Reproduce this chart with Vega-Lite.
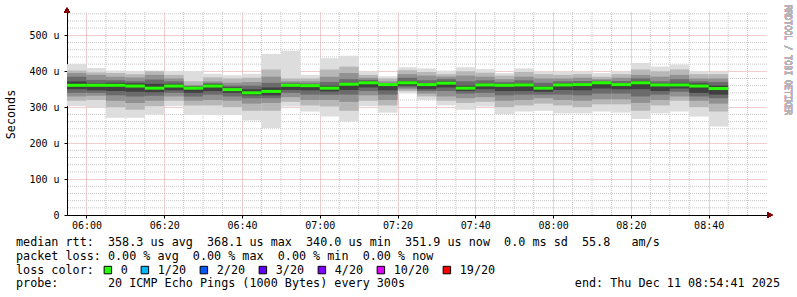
{
  "$schema": "https://vega.github.io/schema/vega-lite/v6.json",
  "width": 700,
  "height": 203,
  "autosize": {"type": "none"},
  "padding": {"left": 67, "top": 12, "right": 30, "bottom": 82},
  "background": "white",
  "config": {
    "font": "DejaVu Sans Mono",
    "view": {"stroke": null},
    "axis": {"labelFont": "DejaVu Sans Mono", "titleFont": "DejaVu Sans Mono"}
  },
  "title": {
    "text": [
      "median rtt:\u00a0\u00a0358.3 us avg\u00a0\u00a0368.1 us max\u00a0\u00a0340.0 us min\u00a0\u00a0351.9 us now\u00a0\u00a00.0 ms sd\u00a0\u00a055.8\u00a0\u00a0\u00a0am/s",
      "packet loss: 0.00 % avg\u00a0\u00a00.00 % max\u00a0\u00a00.00 % min\u00a0\u00a00.00 % now",
      "\u200b",
      "probe:\u00a0\u00a0\u00a0\u00a0\u00a0\u00a0\u00a020 ICMP Echo Pings (1000 Bytes) every 300s\u00a0\u00a0\u00a0\u00a0\u00a0\u00a0\u00a0\u00a0\u00a0\u00a0\u00a0\u00a0\u00a0\u00a0\u00a0\u00a0\u00a0\u00a0\u00a0\u00a0\u00a0\u00a0\u00a0\u00a0end: Thu Dec 11 08:54:41 2025"
    ],
    "orient": "bottom",
    "anchor": "start",
    "frame": "group",
    "dx": -51,
    "offset": -40,
    "font": "DejaVu Sans Mono",
    "fontSize": 11.75,
    "fontWeight": "normal",
    "color": "black",
    "lineHeight": 13.7,
    "baseline": "top"
  },
  "data": {
    "values": [
      {"t": "2025-12-11T05:55:00", "t2": "2025-12-11T06:00:00", "min": 303, "max": 420, "lo2": 318, "hi2": 402, "lo3": 330, "hi3": 395, "lo4": 340, "hi4": 385, "lo5": 350, "hi5": 372, "med": 361, "loss": "0"},
      {"t": "2025-12-11T06:00:00", "t2": "2025-12-11T06:05:00", "min": 299, "max": 409, "lo2": 320, "hi2": 397, "lo3": 332, "hi3": 390, "lo4": 340, "hi4": 376, "lo5": 347, "hi5": 366, "med": 361, "loss": "0"},
      {"t": "2025-12-11T06:05:00", "t2": "2025-12-11T06:10:00", "min": 271, "max": 402, "lo2": 300, "hi2": 395, "lo3": 318, "hi3": 385, "lo4": 333, "hi4": 375, "lo5": 345, "hi5": 368, "med": 361, "loss": "0"},
      {"t": "2025-12-11T06:10:00", "t2": "2025-12-11T06:15:00", "min": 271, "max": 400, "lo2": 293, "hi2": 392, "lo3": 312, "hi3": 383, "lo4": 330, "hi4": 372, "lo5": 343, "hi5": 367, "med": 359, "loss": "0"},
      {"t": "2025-12-11T06:15:00", "t2": "2025-12-11T06:20:00", "min": 280, "max": 402, "lo2": 303, "hi2": 400, "lo3": 318, "hi3": 390, "lo4": 332, "hi4": 377, "lo5": 342, "hi5": 365, "med": 353, "loss": "0"},
      {"t": "2025-12-11T06:20:00", "t2": "2025-12-11T06:25:00", "min": 303, "max": 401, "lo2": 318, "hi2": 390, "lo3": 330, "hi3": 380, "lo4": 340, "hi4": 372, "lo5": 347, "hi5": 365, "med": 359, "loss": "0"},
      {"t": "2025-12-11T06:25:00", "t2": "2025-12-11T06:30:00", "min": 278, "max": 401, "lo2": 305, "hi2": 372, "lo3": 318, "hi3": 362, "lo4": 330, "hi4": 358, "lo5": 340, "hi5": 357, "med": 353, "loss": "0"},
      {"t": "2025-12-11T06:30:00", "t2": "2025-12-11T06:35:00", "min": 278, "max": 393, "lo2": 305, "hi2": 383, "lo3": 320, "hi3": 372, "lo4": 335, "hi4": 367, "lo5": 345, "hi5": 364, "med": 359, "loss": "0"},
      {"t": "2025-12-11T06:35:00", "t2": "2025-12-11T06:40:00", "min": 278, "max": 389, "lo2": 300, "hi2": 380, "lo3": 318, "hi3": 368, "lo4": 330, "hi4": 360, "lo5": 340, "hi5": 355, "med": 349, "loss": "0"},
      {"t": "2025-12-11T06:40:00", "t2": "2025-12-11T06:45:00", "min": 263, "max": 393, "lo2": 290, "hi2": 382, "lo3": 310, "hi3": 370, "lo4": 325, "hi4": 360, "lo5": 333, "hi5": 350, "med": 340, "loss": "0"},
      {"t": "2025-12-11T06:45:00", "t2": "2025-12-11T06:50:00", "min": 242, "max": 448, "lo2": 290, "hi2": 405, "lo3": 312, "hi3": 385, "lo4": 325, "hi4": 368, "lo5": 333, "hi5": 355, "med": 344, "loss": "0"},
      {"t": "2025-12-11T06:50:00", "t2": "2025-12-11T06:55:00", "min": 302, "max": 457, "lo2": 315, "hi2": 380, "lo3": 328, "hi3": 372, "lo4": 340, "hi4": 368, "lo5": 348, "hi5": 364, "med": 361, "loss": "0"},
      {"t": "2025-12-11T06:55:00", "t2": "2025-12-11T07:00:00", "min": 288, "max": 390, "lo2": 305, "hi2": 380, "lo3": 320, "hi3": 372, "lo4": 335, "hi4": 366, "lo5": 347, "hi5": 363, "med": 360, "loss": "0"},
      {"t": "2025-12-11T07:00:00", "t2": "2025-12-11T07:05:00", "min": 274, "max": 436, "lo2": 302, "hi2": 405, "lo3": 320, "hi3": 385, "lo4": 335, "hi4": 370, "lo5": 344, "hi5": 360, "med": 353, "loss": "0"},
      {"t": "2025-12-11T07:05:00", "t2": "2025-12-11T07:10:00", "min": 260, "max": 443, "lo2": 290, "hi2": 413, "lo3": 315, "hi3": 395, "lo4": 335, "hi4": 378, "lo5": 348, "hi5": 368, "med": 364, "loss": "0"},
      {"t": "2025-12-11T07:10:00", "t2": "2025-12-11T07:15:00", "min": 303, "max": 399, "lo2": 318, "hi2": 390, "lo3": 333, "hi3": 382, "lo4": 345, "hi4": 376, "lo5": 355, "hi5": 372, "med": 368, "loss": "0"},
      {"t": "2025-12-11T07:15:00", "t2": "2025-12-11T07:20:00", "min": 285, "max": 386, "lo2": 305, "hi2": 380, "lo3": 320, "hi3": 372, "lo4": 335, "hi4": 366, "lo5": 347, "hi5": 362, "med": 363, "loss": "0"},
      {"t": "2025-12-11T07:20:00", "t2": "2025-12-11T07:25:00", "min": 339, "max": 411, "lo2": 345, "hi2": 403, "lo3": 350, "hi3": 392, "lo4": 355, "hi4": 382, "lo5": 360, "hi5": 373, "med": 368, "loss": "0"},
      {"t": "2025-12-11T07:25:00", "t2": "2025-12-11T07:30:00", "min": 320, "max": 408, "lo2": 330, "hi2": 398, "lo3": 338, "hi3": 388, "lo4": 345, "hi4": 375, "lo5": 350, "hi5": 366, "med": 363, "loss": "0"},
      {"t": "2025-12-11T07:30:00", "t2": "2025-12-11T07:35:00", "min": 305, "max": 402, "lo2": 318, "hi2": 392, "lo3": 330, "hi3": 385, "lo4": 345, "hi4": 378, "lo5": 355, "hi5": 372, "med": 367, "loss": "0"},
      {"t": "2025-12-11T07:35:00", "t2": "2025-12-11T07:40:00", "min": 293, "max": 411, "lo2": 312, "hi2": 400, "lo3": 325, "hi3": 388, "lo4": 338, "hi4": 372, "lo5": 345, "hi5": 360, "med": 353, "loss": "0"},
      {"t": "2025-12-11T07:40:00", "t2": "2025-12-11T07:45:00", "min": 302, "max": 406, "lo2": 315, "hi2": 396, "lo3": 328, "hi3": 385, "lo4": 340, "hi4": 375, "lo5": 350, "hi5": 366, "med": 362, "loss": "0"},
      {"t": "2025-12-11T07:45:00", "t2": "2025-12-11T07:50:00", "min": 281, "max": 395, "lo2": 300, "hi2": 388, "lo3": 318, "hi3": 378, "lo4": 333, "hi4": 370, "lo5": 345, "hi5": 365, "med": 361, "loss": "0"},
      {"t": "2025-12-11T07:50:00", "t2": "2025-12-11T07:55:00", "min": 288, "max": 408, "lo2": 305, "hi2": 398, "lo3": 320, "hi3": 385, "lo4": 335, "hi4": 375, "lo5": 345, "hi5": 366, "med": 362, "loss": "0"},
      {"t": "2025-12-11T07:55:00", "t2": "2025-12-11T08:00:00", "min": 290, "max": 399, "lo2": 310, "hi2": 392, "lo3": 325, "hi3": 380, "lo4": 335, "hi4": 368, "lo5": 343, "hi5": 358, "med": 353, "loss": "0"},
      {"t": "2025-12-11T08:00:00", "t2": "2025-12-11T08:05:00", "min": 283, "max": 399, "lo2": 305, "hi2": 390, "lo3": 320, "hi3": 380, "lo4": 335, "hi4": 372, "lo5": 348, "hi5": 366, "med": 362, "loss": "0"},
      {"t": "2025-12-11T08:05:00", "t2": "2025-12-11T08:10:00", "min": 283, "max": 399, "lo2": 300, "hi2": 392, "lo3": 318, "hi3": 382, "lo4": 333, "hi4": 373, "lo5": 347, "hi5": 367, "med": 363, "loss": "0"},
      {"t": "2025-12-11T08:10:00", "t2": "2025-12-11T08:15:00", "min": 288, "max": 395, "lo2": 308, "hi2": 385, "lo3": 322, "hi3": 378, "lo4": 338, "hi4": 374, "lo5": 352, "hi5": 370, "med": 368, "loss": "0"},
      {"t": "2025-12-11T08:15:00", "t2": "2025-12-11T08:20:00", "min": 285, "max": 399, "lo2": 308, "hi2": 392, "lo3": 322, "hi3": 382, "lo4": 338, "hi4": 373, "lo5": 350, "hi5": 367, "med": 363, "loss": "0"},
      {"t": "2025-12-11T08:20:00", "t2": "2025-12-11T08:25:00", "min": 267, "max": 423, "lo2": 290, "hi2": 405, "lo3": 312, "hi3": 390, "lo4": 330, "hi4": 380, "lo5": 350, "hi5": 373, "med": 368, "loss": "0"},
      {"t": "2025-12-11T08:25:00", "t2": "2025-12-11T08:30:00", "min": 283, "max": 413, "lo2": 305, "hi2": 400, "lo3": 320, "hi3": 385, "lo4": 335, "hi4": 372, "lo5": 345, "hi5": 366, "med": 362, "loss": "0"},
      {"t": "2025-12-11T08:30:00", "t2": "2025-12-11T08:35:00", "min": 288, "max": 419, "lo2": 318, "hi2": 405, "lo3": 330, "hi3": 390, "lo4": 343, "hi4": 378, "lo5": 352, "hi5": 368, "med": 362, "loss": "0"},
      {"t": "2025-12-11T08:35:00", "t2": "2025-12-11T08:40:00", "min": 274, "max": 401, "lo2": 300, "hi2": 392, "lo3": 318, "hi3": 380, "lo4": 330, "hi4": 372, "lo5": 340, "hi5": 366, "med": 359, "loss": "0"},
      {"t": "2025-12-11T08:40:00", "t2": "2025-12-11T08:45:00", "min": 246, "max": 399, "lo2": 288, "hi2": 392, "lo3": 310, "hi3": 380, "lo4": 325, "hi4": 370, "lo5": 335, "hi5": 360, "med": 352, "loss": "0"}
    ]
  },
  "layer": [
    {
      "data": {"values": [
        {"gt": "2025-12-11T06:05:00"}, {"gt": "2025-12-11T06:10:00"}, {"gt": "2025-12-11T06:15:00"},
        {"gt": "2025-12-11T06:25:00"}, {"gt": "2025-12-11T06:30:00"}, {"gt": "2025-12-11T06:35:00"},
        {"gt": "2025-12-11T06:45:00"}, {"gt": "2025-12-11T06:50:00"}, {"gt": "2025-12-11T06:55:00"},
        {"gt": "2025-12-11T07:05:00"}, {"gt": "2025-12-11T07:10:00"}, {"gt": "2025-12-11T07:15:00"},
        {"gt": "2025-12-11T07:25:00"}, {"gt": "2025-12-11T07:30:00"}, {"gt": "2025-12-11T07:35:00"},
        {"gt": "2025-12-11T07:45:00"}, {"gt": "2025-12-11T07:50:00"}, {"gt": "2025-12-11T07:55:00"},
        {"gt": "2025-12-11T08:05:00"}, {"gt": "2025-12-11T08:10:00"}, {"gt": "2025-12-11T08:15:00"},
        {"gt": "2025-12-11T08:25:00"}, {"gt": "2025-12-11T08:30:00"}, {"gt": "2025-12-11T08:35:00"},
        {"gt": "2025-12-11T08:45:00"}, {"gt": "2025-12-11T08:50:00"}
      ]},
      "mark": {"type": "rule", "color": "#c8c8c8", "strokeWidth": 1, "strokeDash": [1, 1]},
      "encoding": {
        "x": {"field": "gt", "type": "temporal",
          "scale": {"domain": [{"year": 2025, "month": 12, "date": 11, "hours": 5, "minutes": 55}, {"year": 2025, "month": 12, "date": 11, "hours": 8, "minutes": 55}], "nice": false},
          "axis": {"orient": "bottom", "title": null, "format": "%H:%M",
            "values": [{"year": 2025, "month": 12, "date": 11, "hours": 6, "minutes": 0}, {"year": 2025, "month": 12, "date": 11, "hours": 6, "minutes": 20}, {"year": 2025, "month": 12, "date": 11, "hours": 6, "minutes": 40}, {"year": 2025, "month": 12, "date": 11, "hours": 7, "minutes": 0}, {"year": 2025, "month": 12, "date": 11, "hours": 7, "minutes": 20}, {"year": 2025, "month": 12, "date": 11, "hours": 7, "minutes": 40}, {"year": 2025, "month": 12, "date": 11, "hours": 8, "minutes": 0}, {"year": 2025, "month": 12, "date": 11, "hours": 8, "minutes": 20}, {"year": 2025, "month": 12, "date": 11, "hours": 8, "minutes": 40}],
            "grid": true, "gridColor": "#e49a9a", "gridDash": [1, 1], "domainColor": "black", "domainWidth": 1, "tickColor": "black", "tickSize": 3, "labelPadding": 2, "labelFontSize": 10, "labelColor": "black", "labelFlush": false}}
      }
    },
    {
      "data": {"values": [
        {"gv": 20}, {"gv": 40}, {"gv": 60}, {"gv": 80}, {"gv": 120}, {"gv": 140}, {"gv": 160}, {"gv": 180},
        {"gv": 220}, {"gv": 240}, {"gv": 260}, {"gv": 280}, {"gv": 320}, {"gv": 340}, {"gv": 360}, {"gv": 380},
        {"gv": 420}, {"gv": 440}, {"gv": 460}, {"gv": 480}, {"gv": 520}, {"gv": 540}, {"gv": 560}
      ]},
      "mark": {"type": "rule", "color": "#c8c8c8", "strokeWidth": 1, "strokeDash": [1, 1]},
      "encoding": {
        "y": {"field": "gv", "type": "quantitative",
          "scale": {"domain": [0, 565], "nice": false},
          "axis": {"orient": "left", "values": [0, 100, 200, 300, 400, 500], "labelExpr": "datum.value === 0 ? '0' : datum.label + ' u'", "grid": true, "gridColor": "#e49a9a", "gridDash": [1, 1], "domainColor": "black", "tickColor": "black", "tickSize": 3, "labelPadding": 5, "labelFontSize": 10, "labelColor": "black",
            "title": "Seconds", "titleX": -57, "titleY": 102, "titleFontSize": 11.75, "titleFontWeight": "normal", "titleColor": "black", "titleAlign": "center", "titleBaseline": "middle", "titleAngle": -90}}
      }
    },
    {
      "mark": {"type": "rect", "color": "#dddddd"},
      "encoding": {
        "x": {"field": "t", "type": "temporal"},
        "x2": {"field": "t2"},
        "y": {"field": "min", "type": "quantitative"},
        "y2": {"field": "max"}
      }
    },
    {
      "mark": {"type": "rect", "color": "#b7b7b7"},
      "encoding": {
        "x": {"field": "t", "type": "temporal"},
        "x2": {"field": "t2"},
        "y": {"field": "lo2", "type": "quantitative"},
        "y2": {"field": "hi2"}
      }
    },
    {
      "mark": {"type": "rect", "color": "#919191"},
      "encoding": {
        "x": {"field": "t", "type": "temporal"},
        "x2": {"field": "t2"},
        "y": {"field": "lo3", "type": "quantitative"},
        "y2": {"field": "hi3"}
      }
    },
    {
      "mark": {"type": "rect", "color": "#6b6b6b"},
      "encoding": {
        "x": {"field": "t", "type": "temporal"},
        "x2": {"field": "t2"},
        "y": {"field": "lo4", "type": "quantitative"},
        "y2": {"field": "hi4"}
      }
    },
    {
      "mark": {"type": "rect", "color": "#404040"},
      "encoding": {
        "x": {"field": "t", "type": "temporal"},
        "x2": {"field": "t2"},
        "y": {"field": "lo5", "type": "quantitative"},
        "y2": {"field": "hi5"}
      }
    },
    {
      "mark": {"type": "tick", "orient": "horizontal", "size": 19.5, "thickness": 3, "xOffset": 9.75, "opacity": 1},
      "encoding": {
        "x": {"field": "t", "type": "temporal"},
        "y": {"field": "med", "type": "quantitative"},
        "color": {"field": "loss", "type": "nominal",
          "scale": {"domain": ["0", "1/20", "2/20", "3/20", "4/20", "10/20", "19/20"], "range": ["#26ff00", "#00b8ff", "#0059ff", "#5e00ff", "#7e00ff", "#dd00ff", "#ff0000"]},
          "legend": {"orient": "none", "legendX": -51, "legendY": 252, "direction": "horizontal", "columns": 7,
            "title": "loss color:", "titleOrient": "left", "titleFont": "DejaVu Sans Mono", "titleFontSize": 11.75, "titleFontWeight": "normal", "titleColor": "black", "titlePadding": 8, "titleBaseline": "middle",
            "labelFont": "DejaVu Sans Mono", "labelFontSize": 11.75, "labelColor": "black", "labelOffset": 7, "columnPadding": 11,
            "symbolType": "square", "symbolSize": 56, "symbolStrokeWidth": 1, "symbolStrokeColor": "black", "symbolOpacity": 1}}
      }
    },
    {
      "mark": {"type": "text", "angle": 90, "align": "center", "baseline": "middle", "font": "DejaVu Sans Mono", "fontSize": 8.3, "color": "#b4b4b4", "xOffset": 20},
      "encoding": {
        "x": {"datum": {"year": 2025, "month": 12, "date": 11, "hours": 8, "minutes": 55}, "type": "temporal"},
        "y": {"datum": 431, "type": "quantitative"},
        "text": {"value": "RRDTOOL / TOBI OETIKER"}
      }
    },
    {
      "mark": {"type": "point", "shape": "triangle-right", "filled": true, "size": 30, "color": "#800000", "opacity": 1, "xOffset": 3},
      "encoding": {
        "x": {"datum": {"year": 2025, "month": 12, "date": 11, "hours": 8, "minutes": 55}, "type": "temporal"},
        "y": {"datum": 0, "type": "quantitative"}
      }
    },
    {
      "mark": {"type": "point", "shape": "triangle-up", "filled": true, "size": 30, "color": "#800000", "opacity": 1, "yOffset": -2},
      "encoding": {
        "x": {"datum": {"year": 2025, "month": 12, "date": 11, "hours": 5, "minutes": 55}, "type": "temporal"},
        "y": {"datum": 565, "type": "quantitative"}
      }
    }
  ]
}
